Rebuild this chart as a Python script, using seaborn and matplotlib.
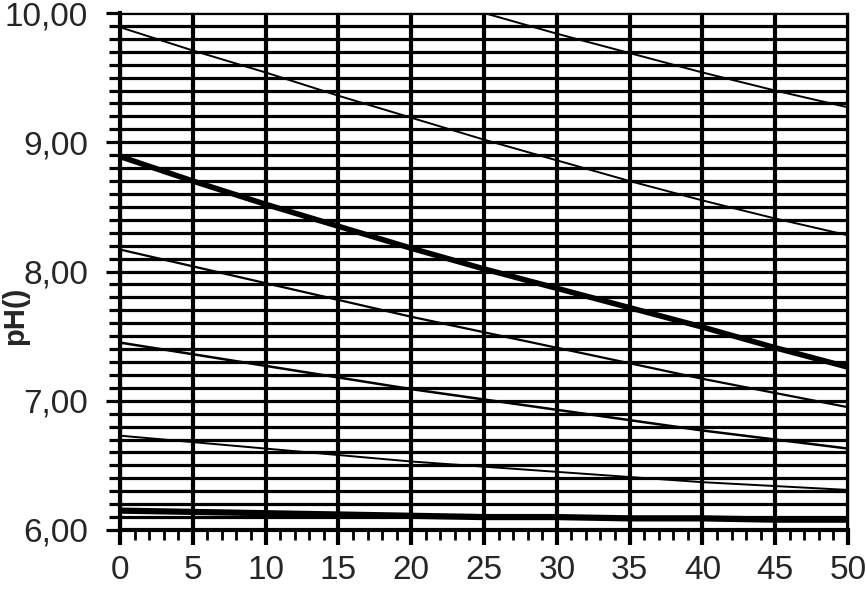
import numpy as np
import pandas as pd
import seaborn as sns
import matplotlib
matplotlib.use("Agg")
import matplotlib.pyplot as plt
from matplotlib.ticker import MultipleLocator, FuncFormatter

# temperature (x) and pH curves
temp = [0, 5, 10, 15, 20, 25, 30, 35, 40, 45, 50]
ph_0 = [np.nan, np.nan, np.nan, np.nan, 10.17, 10.00, 9.84, 9.69, 9.54, 9.40, 9.27]
ph_1 = [9.89, 9.71, 9.54, 9.36, 9.19, 9.02, 8.86, 8.70, 8.55, 8.41, 8.28]
ph_2 = [8.89, 8.70, 8.52, 8.35, 8.18, 8.02, 7.87, 7.72, 7.57, 7.41, 7.26]
ph_3 = [8.17, 8.04, 7.91, 7.78, 7.65, 7.53, 7.41, 7.29, 7.17, 7.06, 6.95]
ph_4 = [7.45, 7.36, 7.27, 7.18, 7.09, 7.01, 6.93, 6.85, 6.77, 6.70, 6.63]
ph_5 = [6.73, 6.68, 6.63, 6.58, 6.53, 6.49, 6.45, 6.41, 6.37, 6.34, 6.31]
ph_6 = [6.15, 6.14, 6.13, 6.12, 6.11, 6.10, 6.10, 6.09, 6.09, 6.08, 6.08]

curves = {"c0": ph_0, "c1": ph_1, "c2": ph_2, "c3": ph_3,
          "c4": ph_4, "c5": ph_5, "c6": ph_6}
widths = {"c0": 1.4, "c1": 1.4, "c2": 4.0, "c3": 1.6,
          "c4": 1.8, "c5": 1.4, "c6": 4.5}

rows = []
for name, vals in curves.items():
    for t, v in zip(temp, vals):
        rows.append({"T": t, "pH": v, "curve": name})
df = pd.DataFrame(rows).dropna()

sns.set_style("white")
plt.rcParams["font.family"] = ["Liberation Sans", "DejaVu Sans"]

fig = plt.figure(figsize=(8.66, 5.90), dpi=100)
ax = fig.add_axes([120 / 866, 1 - 530 / 590, 728 / 866, 517 / 590])

for name in curves:
    sub = df[df["curve"] == name]
    sns.lineplot(data=sub, x="T", y="pH", ax=ax, color="black",
                 linewidth=widths[name], legend=False, zorder=3)

ax.set_xlim(0, 50)
ax.set_ylim(6, 10)

ax.xaxis.set_major_locator(MultipleLocator(5))
ax.xaxis.set_minor_locator(MultipleLocator(1))
ax.yaxis.set_major_locator(MultipleLocator(1))
ax.yaxis.set_minor_locator(MultipleLocator(0.1))
ax.yaxis.set_major_formatter(FuncFormatter(lambda v, p: f"{v:.2f}".replace(".", ",")))

ax.grid(True, which="major", axis="x", color="black", linewidth=3.0, zorder=1)
ax.grid(True, which="both", axis="y", color="black", linewidth=2.3, zorder=1)

ax.tick_params(axis="y", which="major", direction="out", length=10, width=2.3,
               color="black", labelsize=24, pad=13, left=True)
ax.tick_params(axis="y", which="minor", direction="out", length=8, width=2.3,
               color="black", left=True)
ax.tick_params(axis="x", which="major", direction="out", length=11, width=3.0,
               color="black", labelsize=24, pad=7, bottom=True)
ax.tick_params(axis="x", which="minor", direction="out", length=7, width=2.0,
               color="black", bottom=True)

for side in ["left", "bottom"]:
    ax.spines[side].set_linewidth(3.0)
    ax.spines[side].set_color("black")
for side in ["top", "right"]:
    ax.spines[side].set_linewidth(1.0)
    ax.spines[side].set_color("black")
    ax.spines[side].set_linestyle((0, (4, 1)))

ax.set_xlabel("")
ax.set_ylabel("")
fig.text(0.017, 1 - 345 / 590, "pH()", rotation=90, fontsize=21,
         fontweight="bold", ha="center", va="bottom")

fig.savefig("out.png", dpi=100)
